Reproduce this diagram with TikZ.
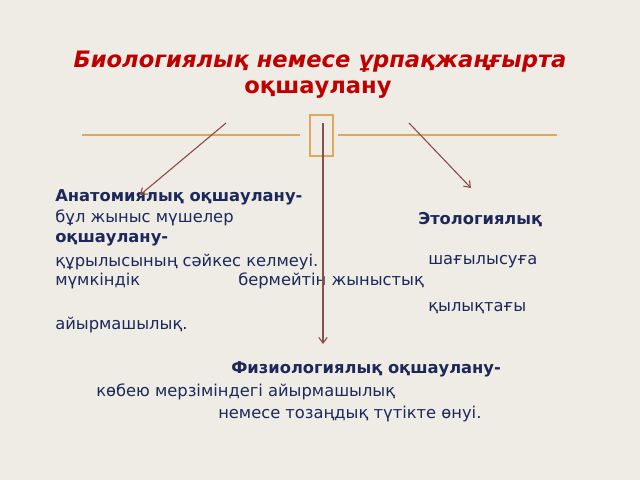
\documentclass[tikz,border=0pt]{standalone}
\usepackage{fontspec}
\setmainfont{DejaVu Sans}
\usetikzlibrary{arrows.meta}
\definecolor{slidebg}{RGB}{238,236,229}
\definecolor{titlered}{RGB}{192,0,0}
\definecolor{textblue}{RGB}{28,40,90}
\definecolor{ruleorange}{RGB}{222,168,92}
\definecolor{arrowbrown}{RGB}{140,78,72}
\tikzset{
  txt/.style={anchor=west, inner sep=0pt, text=textblue, font=\fontsize{11.6}{13}\selectfont},
  btxt/.style={txt, font=\fontsize{11.6}{13}\selectfont\bfseries},
  pointer/.style={draw=arrowbrown, line width=0.8pt, -{Straight Barb[length=4pt,width=6pt]}}
}
\begin{document}
\begin{tikzpicture}[x=0.025cm,y=-0.025cm]
		%%%%% START %%%%%
		
		\fill[slidebg] (0, 0) rectangle (640, 480);
		\useasboundingbox (0, 0) rectangle (640, 480);
		
		\node[inner sep=0pt, text=titlered, font=\fontsize{16.1}{18}\selectfont\bfseries\itshape] (title) at (320, 62) {Биологиялық немесе ұрпақжаңғырта};
		\node[inner sep=0pt, text=titlered, font=\fontsize{16.1}{18}\selectfont\bfseries] (title2) at (318, 90) {оқшаулану};
		
		\draw[line width=0.8pt, color=ruleorange] (82, 135) -- (300, 135);
		\draw[line width=0.8pt, color=ruleorange] (338, 135) -- (557, 135);
		\draw[line width=1.6pt, color=ruleorange] (310, 115) rectangle (333, 156);
		
		\node[btxt] (anat) at (55, 197) {Анатомиялық оқшаулану-};
		\node[txt] (anat1) at (55, 218) {бұл жыныс мүшелер};
		\node[txt] (anat2) at (55, 262) {құрылысының сәйкес келмеуі.};
		\node[txt] (anat3) at (55, 281) {мүмкіндік};
		\node[txt] (anat4) at (55, 325) {айырмашылық.};
		
		\node[btxt] (etol) at (418, 220) {Этологиялық};
		\node[btxt] (etol1) at (55, 240) {оқшаулану-};
		\node[txt] (etol2) at (428, 262) {шағылысуға};
		\node[txt] (etol3) at (238, 281) {бермейтін жыныстық};
		\node[txt] (etol4) at (428, 308) {қылықтағы};
		
		\node[btxt] (phys) at (231, 369) {Физиологиялық оқшаулану-};
		\node[txt] (phys1) at (96, 392) {көбею мерзіміндегі айырмашылық};
		\node[txt] (phys2) at (218, 414) {немесе тозаңдық түтікте өнуі.};
		
		\coordinate (lstart) at (226, 123);
		\coordinate (lend) at (140, 195);
		\coordinate (mstart) at (323, 123);
		\coordinate (mend) at (323, 344);
		\coordinate (rstart) at (409, 123);
		\coordinate (rend) at (471, 188);
		
		\draw[pointer] (lstart) -- (lend);
		\draw[pointer] (mstart) -- (mend);
		\draw[pointer] (rstart) -- (rend);
		
		%%%%% END %%%%%
\end{tikzpicture}
\end{document}
